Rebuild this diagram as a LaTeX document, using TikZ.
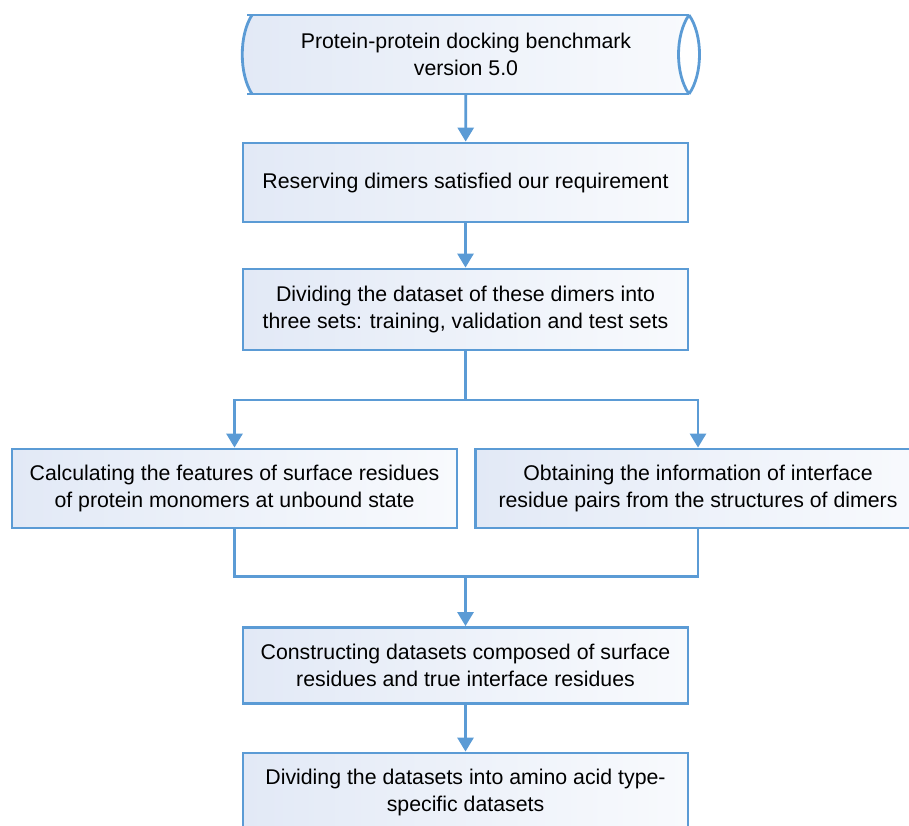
\documentclass[tikz,border=0pt]{standalone}
\usepackage{fontspec}
\setmainfont{Liberation Sans}
\usepackage{tikz}
\usetikzlibrary{calc,arrows.meta}
\definecolor{flowline}{RGB}{91,155,213}
\definecolor{flowfillL}{RGB}{226,233,246}
\definecolor{flowfillR}{RGB}{248,250,253}
\tikzset{
  stepbox/.style={draw=flowline,line width=2.8pt,left color=flowfillL,right color=flowfillR,
    minimum width=445pt,minimum height=79pt,align=center,inner sep=0pt},
  flow/.style={draw=flowline,line width=2.8pt,miter limit=10},
  flowarrow/.style={flow,-{Triangle[width=16pt,length=14pt]}}
}

\begin{document}
\begin{tikzpicture}[x=1pt,y=-1pt,font=\fontsize{21.3}{27}\selectfont]
  \useasboundingbox (0,0) rectangle (909,826) ;

  % le support de donnees du haut
  \fill[left color=flowfillL,right color=flowfillR] (252,15) -- (689,15)
    .. controls (675,35) and (675,74) .. (689,94) -- (252,94)
    .. controls (239,74) and (239,35) .. (252,15) ;
  \draw[flow] (247,15) -- (689,15) ; \draw[flow] (247,94) -- (689,94) ;
  \draw[flow] (252,15) .. controls (239,35) and (239,74) .. (252,94) ;
  \draw[flow] (689,15) .. controls (675,35) and (675,74) .. (689,94) ;
  \draw[flow] (689,15) .. controls (703,35) and (703,74) .. (689,94) ;
  \node[minimum width=444pt,minimum height=79pt,align=center,inner sep=0pt] (bench) at (466,54.5)
    {Protein-protein docking benchmark\\version 5.0} ;

  \node[stepbox] (reserve) at (465.5,182.5) {Reserving dimers satisfied our requirement} ;
  \node[stepbox,minimum height=81pt] (divide) at (465.5,309.5)
    {Dividing the dataset of these dimers into\\three sets: training, validation and test sets} ;
  \node[stepbox] (calcfeat) at (234.5,488.5)
    {Calculating the features of surface residues\\of protein monomers at unbound state} ;
  \node[stepbox] (obtain) at (698,488.5)
    {Obtaining the information of interface\\residue pairs from the structures of dimers} ;
  \node[stepbox,minimum height=76pt] (construct) at (465.5,665.5)
    {Constructing datasets composed of surface\\residues and true interface residues} ;
  \node[stepbox] (amino) at (465.5,792.5)
    {Dividing the datasets into amino acid type-\\specific datasets} ;

  \coordinate (fork) at (465.5,400) ;
  \coordinate (join) at (465.5,576.5) ;

  \draw[flowarrow] (bench) -- (reserve) ;
  \draw[flowarrow] (reserve) -- (divide) ;
  \draw[flow] (divide) -- (fork) ;
  \draw[flowarrow] (fork) -| (calcfeat) ;
  \draw[flowarrow] (fork) -| (obtain) ;
  \draw[flow] (calcfeat) |- (join) ;
  \draw[flow] (obtain) |- (join) ;
  \draw[flowarrow] (join) -- (construct) ;
  \draw[flowarrow] (construct) -- (amino) ;

\end{tikzpicture}
\end{document}
